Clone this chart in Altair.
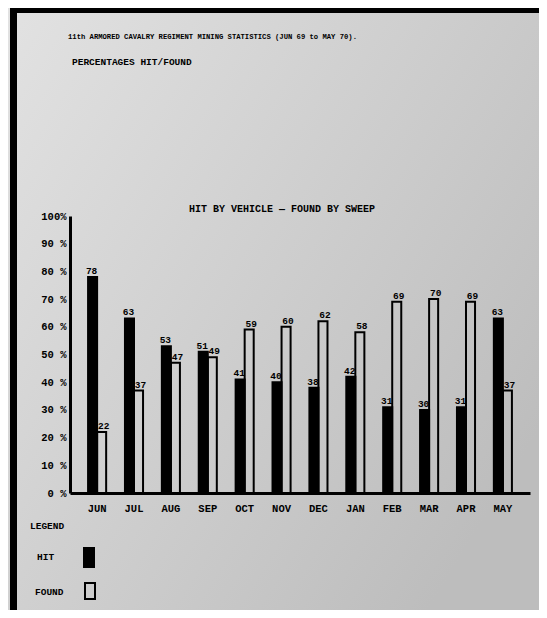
import altair as alt
import pandas as pd

months = ["JUN", "JUL", "AUG", "SEP", "OCT", "NOV", "DEC", "JAN", "FEB", "MAR", "APR", "MAY"]
hit = [78, 63, 53, 51, 41, 40, 38, 42, 31, 30, 31, 63]
found = [22, 37, 47, 49, 59, 60, 62, 58, 69, 70, 69, 37]
series = ["HIT", "FOUND"]
y_ticks = [0, 10, 20, 30, 40, 50, 60, 70, 80, 90, 100]

title1 = "11th ARMORED CAVALRY REGIMENT MINING STATISTICS (JUN 69 to MAY 70)."
title2 = "PERCENTAGES HIT/FOUND"
subtitle = "HIT BY VEHICLE \u2014 FOUND BY SWEEP"
legend_title = "LEGEND"

rows = []
for m, h, f in zip(months, hit, found):
    rows.append({"month": m, "series": "HIT", "value": h})
    rows.append({"month": m, "series": "FOUND", "value": f})
df = pd.DataFrame(rows)

FONT = "Liberation Mono"

x = alt.X(
    "month:N", sort=months,
    scale=alt.Scale(paddingInner=0.51, paddingOuter=0.49),
    axis=alt.Axis(title=None, labelAngle=0, ticks=False, domainWidth=3, domainColor="black",
                  labelFont=FONT, labelFontSize=10.5, labelFontWeight="bold", labelColor="black",
                  labelPadding=10, zindex=2),
)
xo = alt.XOffset("series:N", sort=series,
                 scale=alt.Scale(domain=series, paddingInner=0, paddingOuter=0))
y = alt.Y(
    "value:Q", scale=alt.Scale(domain=[0, 100], nice=False),
    axis=alt.Axis(title=None, values=y_ticks, ticks=False, grid=False, domainWidth=3,
                  domainColor="black",
                  labelExpr="datum.value == 100 ? '100%' : datum.value + ' %'",
                  labelFont=FONT, labelFontSize=10.5, labelFontWeight="bold", labelColor="black",
                  labelPadding=4, zindex=2),
)

one = pd.DataFrame({"a": [0]})

bg = alt.Chart(one).mark_rect(
    fill=alt.Gradient(
        gradient="linear",
        stops=[alt.GradientStop(color="#e2e2e2", offset=0),
               alt.GradientStop(color="#bdbdbd", offset=1)],
        x1=0, y1=0, x2=1, y2=0.7,
    )
).encode(x=alt.value(-62), x2=alt.value(470), y=alt.value(-208), y2=alt.value(394))

top_bar = alt.Chart(one).mark_rect(color="black").encode(
    x=alt.value(-60), x2=alt.value(470), y=alt.value(-208), y2=alt.value(-203))
left_bar = alt.Chart(one).mark_rect(color="black").encode(
    x=alt.value(-60), x2=alt.value(-53), y=alt.value(-208), y2=alt.value(394))

bars = alt.Chart(df).mark_bar(stroke="black", strokeWidth=2).encode(
    x=x, xOffset=xo, y=y,
    fill=alt.Fill("series:N", scale=alt.Scale(domain=series, range=["#000000", "rgba(0,0,0,0)"]),
                  legend=None),
)

label_hit = alt.Chart(df).transform_filter(alt.datum.series == "HIT").mark_text(
    baseline="bottom", dy=-1, dx=-1, font=FONT, fontSize=9.5, fontWeight="bold", color="black"
).encode(x=x, xOffset=xo, y=y, text="value:Q")
label_found = alt.Chart(df).transform_filter(alt.datum.series == "FOUND").mark_text(
    baseline="bottom", dy=-1, dx=2, font=FONT, fontSize=9.5, fontWeight="bold", color="black"
).encode(x=x, xOffset=xo, y=y, text="value:Q")


def txt(s, px, py, size, align="left", weight="bold"):
    return alt.Chart(pd.DataFrame({"t": [s]})).mark_text(
        align=align, baseline="middle", font=FONT, fontSize=size, fontWeight=weight,
        color="black").encode(x=alt.value(px), y=alt.value(py), text="t:N")


t1 = txt(title1, -2, -179, 7.2)
t2 = txt(title2, 2, -154, 9.5)
t3 = txt(subtitle, 212, -7, 10, align="center")
lg = txt(legend_title, -40, 310, 9.5)
lg_hit = txt(series[0], -33, 341, 9.5)
lg_found = txt(series[1], -35, 376, 9.5)
box_hit = alt.Chart(one).mark_rect(color="black").encode(
    x=alt.value(13), x2=alt.value(25), y=alt.value(331), y2=alt.value(352))
box_found = alt.Chart(one).mark_rect(fill="rgba(0,0,0,0)", stroke="black", strokeWidth=2).encode(
    x=alt.value(15), x2=alt.value(25), y=alt.value(367), y2=alt.value(383))

chart = alt.layer(
    bg, top_bar, left_bar, bars, label_hit, label_found, t1, t2, t3, lg, lg_hit, lg_found,
    box_hit, box_found
).properties(
    width=460, height=277,
    padding={"left": 62, "top": 208, "right": 9, "bottom": 117},
    autosize=alt.AutoSizeParams(type="none"),
).configure_view(stroke=None).configure(background="#d4d4d4")

chart.save("out.html", embed_options={"renderer": "svg", "actions": False})
